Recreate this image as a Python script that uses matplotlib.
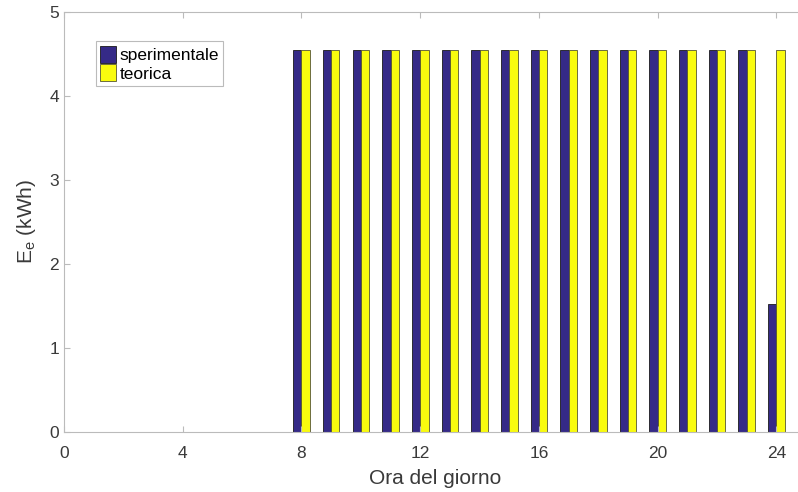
import numpy as np
import matplotlib.pyplot as plt

plt.rcParams['font.family'] = ['Liberation Sans', 'DejaVu Sans']

ore = list(range(8, 25))
sperimentale = [4.55] * 16 + [1.52]
teorica = [4.55] * 17

blu = '#352a87'
giallo = '#f9fb0e'

fig = plt.figure(figsize=(7.98, 4.92), dpi=100)
ax = fig.add_axes([0.0802, 0.122, 0.93, 0.8537])

x = np.array(ore)
w = 0.28
ax.bar(x - 0.14, sperimentale, w, color=blu, edgecolor='#1a1a1a', linewidth=0.6, label='sperimentale')
ax.bar(x + 0.14, teorica, w, color=giallo, edgecolor='#555533', linewidth=0.6, label='teorica')

ax.set_xlim(0, 25)
ax.set_ylim(0, 5)
ax.set_xticks(range(0, 25, 4))
ax.set_yticks(range(0, 6))
ax.tick_params(direction='in', length=4, colors='#bbbbbb', labelcolor='#3a3a3a', labelsize=12.5, top=True)
ax.tick_params(axis='x', pad=10)
for s in ax.spines.values():
    s.set_color('#bbbbbb')
ax.spines['right'].set_visible(False)
ax.set_xlabel('Ora del giorno', fontsize=15, color='#3a3a3a', labelpad=6)
ax.set_ylabel('E$_\\mathregular{e}$ (kWh)', fontsize=15, color='#3a3a3a', labelpad=8)

leg = ax.legend(loc='upper left', bbox_to_anchor=(0.043, 0.93), fontsize=12.5, frameon=True, fancybox=False,
                edgecolor='#aaaaaa', handlelength=0.9, handleheight=1.15, handletextpad=0.2,
                borderpad=0.25, labelspacing=0.05, borderaxespad=0)
leg.get_frame().set_linewidth(0.8)

fig.savefig('out.png', dpi=100)
